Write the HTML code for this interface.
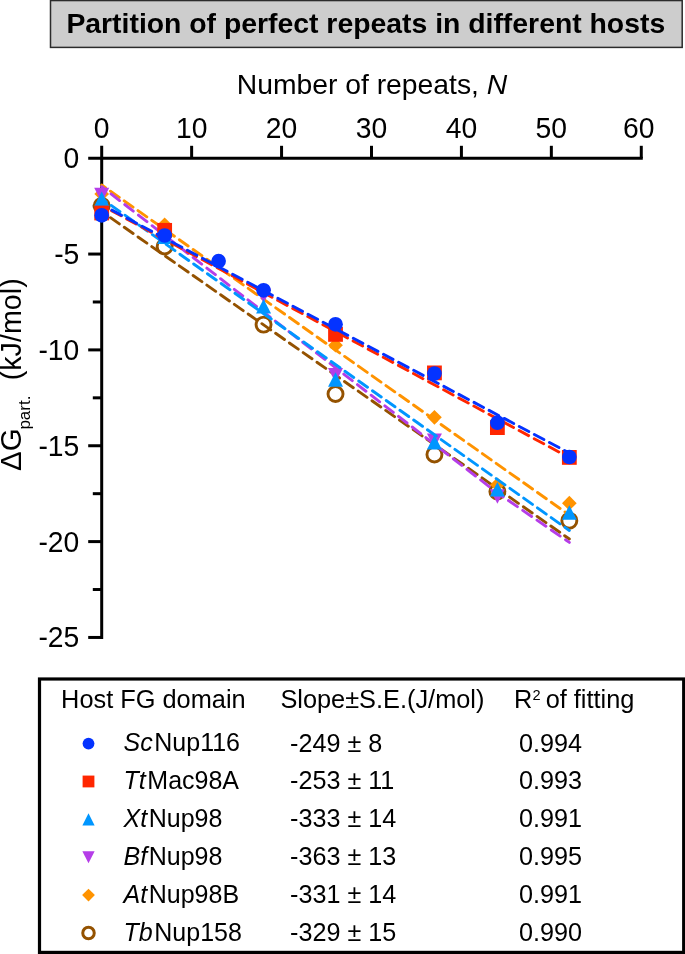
<!DOCTYPE html>
<html lang="en"><head><meta charset="utf-8"><title>Partition of perfect repeats in different hosts</title>
<style>html,body{margin:0;padding:0;background:#fff}body{width:685px;height:954px;overflow:hidden}svg{display:block;will-change:transform}text{font-family:"Liberation Sans", Arial, Helvetica, sans-serif;fill:#000}</style></head><body>
<svg width="685" height="954" viewBox="0 0 685 954">
<rect x="0" y="0" width="685" height="954" fill="#fff"/>
<rect x="50.5" y="0.55" width="631.7" height="46.85" fill="#cdcdcd" stroke="#2b2b2b" stroke-width="1.5"/>
<text x="365.8" y="33.4" font-size="28.37" font-weight="bold" text-anchor="middle">Partition of perfect repeats in different hosts</text>
<text x="372" y="93.5" font-size="28.3" text-anchor="middle">Number of repeats, <tspan font-style="italic">N</tspan></text>
<g stroke="#000" stroke-width="3.00" fill="none" stroke-linecap="butt">
<path d="M88.20 158.20 H642.78"/>
<path d="M101.70 145.80 V638.95"/>
<path d="M191.63 145.80 V158.20"/>
<path d="M281.56 145.80 V158.20"/>
<path d="M371.49 145.80 V158.20"/>
<path d="M461.42 145.80 V158.20"/>
<path d="M551.35 145.80 V158.20"/>
<path d="M641.28 145.80 V158.20"/>
<path d="M92.80 206.12 H101.70"/>
<path d="M88.20 254.05 H101.70"/>
<path d="M92.80 301.98 H101.70"/>
<path d="M88.20 349.90 H101.70"/>
<path d="M92.80 397.83 H101.70"/>
<path d="M88.20 445.75 H101.70"/>
<path d="M92.80 493.68 H101.70"/>
<path d="M88.20 541.60 H101.70"/>
<path d="M92.80 589.53 H101.70"/>
<path d="M88.20 637.45 H101.70"/>
</g>
<text transform="translate(101.70 137.70) scale(1 1.045)" font-size="28.30" text-anchor="middle">0</text>
<text transform="translate(191.63 137.70) scale(1 1.045)" font-size="28.30" text-anchor="middle">10</text>
<text transform="translate(281.56 137.70) scale(1 1.045)" font-size="28.30" text-anchor="middle">20</text>
<text transform="translate(371.49 137.70) scale(1 1.045)" font-size="28.30" text-anchor="middle">30</text>
<text transform="translate(461.42 137.70) scale(1 1.045)" font-size="28.30" text-anchor="middle">40</text>
<text transform="translate(551.35 137.70) scale(1 1.045)" font-size="28.30" text-anchor="middle">50</text>
<text transform="translate(638.78 137.70) scale(1 1.045)" font-size="28.30" text-anchor="middle">60</text>
<text transform="translate(79.30 168.10) scale(1 1.045)" font-size="28.30" text-anchor="end">0</text>
<text transform="translate(79.30 263.95) scale(1 1.045)" font-size="28.30" text-anchor="end">-5</text>
<text transform="translate(79.30 359.80) scale(1 1.045)" font-size="28.30" text-anchor="end">-10</text>
<text transform="translate(79.30 455.65) scale(1 1.045)" font-size="28.30" text-anchor="end">-15</text>
<text transform="translate(79.30 551.50) scale(1 1.045)" font-size="28.30" text-anchor="end">-20</text>
<text transform="translate(79.30 647.35) scale(1 1.045)" font-size="28.30" text-anchor="end">-25</text>
<g transform="translate(21.4 0) rotate(-90)">
<text x="-470.9" y="0" font-size="29.5">ΔG</text>
<text x="-429.6" y="9" font-size="17">part.</text>
<text x="-380.3" y="0" font-size="28.7">(kJ/mol)</text>
</g>
<path d="M101.70 211.50 L569.34 539.00" stroke="#945200" fill="none" stroke-width="2.90" stroke-dasharray="10.8 6.00" stroke-dashoffset="6.05" stroke-linecap="round" stroke-linejoin="round"/>
<circle cx="101.70" cy="205.80" r="7.50" fill="none" stroke="#945200" stroke-width="2.9"/>
<circle cx="164.65" cy="246.50" r="7.50" fill="none" stroke="#945200" stroke-width="2.9"/>
<circle cx="263.57" cy="324.60" r="7.50" fill="none" stroke="#945200" stroke-width="2.9"/>
<circle cx="335.52" cy="394.00" r="7.50" fill="none" stroke="#945200" stroke-width="2.9"/>
<circle cx="434.44" cy="454.50" r="7.50" fill="none" stroke="#945200" stroke-width="2.9"/>
<circle cx="497.39" cy="491.50" r="7.50" fill="none" stroke="#945200" stroke-width="2.9"/>
<circle cx="569.34" cy="520.70" r="7.50" fill="none" stroke="#945200" stroke-width="2.9"/>
<path d="M101.70 185.00 L569.34 515.00" stroke="#ff9300" fill="none" stroke-width="2.90" stroke-dasharray="10.8 6.06" stroke-dashoffset="6.16" stroke-linecap="round" stroke-linejoin="round"/>
<path d="M101.70 186.65 L109.05 194.00 L101.70 201.35 L94.35 194.00Z" fill="#ff9300"/>
<path d="M164.65 217.45 L172.00 224.80 L164.65 232.15 L157.30 224.80Z" fill="#ff9300"/>
<path d="M263.57 282.85 L270.92 290.20 L263.57 297.55 L256.22 290.20Z" fill="#ff9300"/>
<path d="M335.52 337.85 L342.87 345.20 L335.52 352.55 L328.17 345.20Z" fill="#ff9300"/>
<path d="M434.44 409.95 L441.79 417.30 L434.44 424.65 L427.09 417.30Z" fill="#ff9300"/>
<path d="M497.39 477.45 L504.74 484.80 L497.39 492.15 L490.04 484.80Z" fill="#ff9300"/>
<path d="M569.34 495.85 L576.69 503.20 L569.34 510.55 L561.99 503.20Z" fill="#ff9300"/>
<path d="M101.70 186.70 L497.39 492.94 L569.34 542.40" stroke="#b53de8" fill="none" stroke-width="2.90" stroke-dasharray="10.8 6.51" stroke-dashoffset="5.51" stroke-linecap="round" stroke-linejoin="round"/>
<path d="M94.20 187.80 L109.20 187.80 L101.70 202.40Z" fill="#b53de8"/>
<path d="M157.15 223.50 L172.15 223.50 L164.65 238.10Z" fill="#b53de8"/>
<path d="M256.07 288.60 L271.07 288.60 L263.57 303.20Z" fill="#b53de8"/>
<path d="M328.02 368.10 L343.02 368.10 L335.52 382.70Z" fill="#b53de8"/>
<path d="M426.94 433.50 L441.94 433.50 L434.44 448.10Z" fill="#b53de8"/>
<path d="M489.89 489.20 L504.89 489.20 L497.39 503.80Z" fill="#b53de8"/>
<path d="M101.70 198.70 L569.34 530.50" stroke="#0096ff" fill="none" stroke-width="2.90" stroke-dasharray="10.8 6.06" stroke-dashoffset="5.26" stroke-linecap="round" stroke-linejoin="round"/>
<path d="M101.70 191.60 L109.20 206.20 L94.20 206.20Z" fill="#0096ff"/>
<path d="M164.65 229.35 L172.15 243.95 L157.15 243.95Z" fill="#0096ff"/>
<path d="M263.57 298.90 L271.07 313.50 L256.07 313.50Z" fill="#0096ff"/>
<path d="M335.52 372.20 L343.02 386.80 L328.02 386.80Z" fill="#0096ff"/>
<path d="M434.44 435.00 L441.94 449.60 L426.94 449.60Z" fill="#0096ff"/>
<path d="M497.39 481.90 L504.89 496.50 L489.89 496.50Z" fill="#0096ff"/>
<path d="M569.34 505.20 L576.84 519.80 L561.84 519.80Z" fill="#0096ff"/>
<path d="M111.56 210.72 L569.34 457.60" stroke="#ff2600" fill="none" stroke-width="2.90" stroke-dasharray="10.8 6.35" stroke-dashoffset="0" stroke-linecap="round" stroke-linejoin="round"/>
<rect x="94.30" y="205.60" width="14.80" height="14.80" fill="#ff2600"/>
<rect x="157.25" y="222.95" width="14.80" height="14.80" fill="#ff2600"/>
<rect x="328.12" y="327.00" width="14.80" height="14.80" fill="#ff2600"/>
<rect x="427.04" y="365.50" width="14.80" height="14.80" fill="#ff2600"/>
<rect x="489.99" y="420.20" width="14.80" height="14.80" fill="#ff2600"/>
<rect x="561.94" y="450.00" width="14.80" height="14.80" fill="#ff2600"/>
<path d="M111.95 210.14 L569.34 453.00" stroke="#0433ff" fill="none" stroke-width="2.90" stroke-dasharray="10.8 6.28" stroke-dashoffset="0" stroke-linecap="round" stroke-linejoin="round"/>
<circle cx="101.70" cy="215.30" r="7.35" fill="#0433ff"/>
<circle cx="164.65" cy="235.50" r="7.35" fill="#0433ff"/>
<circle cx="218.61" cy="261.10" r="7.35" fill="#0433ff"/>
<circle cx="263.57" cy="290.30" r="7.35" fill="#0433ff"/>
<circle cx="335.52" cy="324.30" r="7.35" fill="#0433ff"/>
<circle cx="434.44" cy="373.50" r="7.35" fill="#0433ff"/>
<circle cx="497.39" cy="422.70" r="7.35" fill="#0433ff"/>
<circle cx="569.34" cy="457.00" r="7.35" fill="#0433ff"/>
<rect x="39.5" y="679" width="644.2" height="273.4" fill="#fff" stroke="#000" stroke-width="3.2"/>
<g font-size="25.35">
<text x="61.1" y="707.8">Host FG domain</text>
<text x="280.4" y="707.8">Slope±S.E.(J/mol)</text>
<text x="514" y="707.8">R<tspan font-size="14.6" dy="-7.4" dx="0.3">2</tspan><tspan dy="7.4" dx="4.9">of fitting</tspan></text>
</g>
<text x="123.6" y="751.40" font-size="25"><tspan font-style="italic">Sc</tspan><tspan dx="1.5">Nup116</tspan></text>
<text transform="translate(290 751.60) scale(1 1.04)" font-size="25.2">-249 ± 8</text>
<text transform="translate(519 751.60) scale(1 1.04)" font-size="25.2">0.994</text>
<text x="123.6" y="789.28" font-size="25"><tspan font-style="italic">Tt</tspan><tspan dx="1.5">Mac98A</tspan></text>
<text transform="translate(290 789.48) scale(1 1.04)" font-size="25.2">-253 ± 11</text>
<text transform="translate(519 789.48) scale(1 1.04)" font-size="25.2">0.993</text>
<text x="123.6" y="827.16" font-size="25"><tspan font-style="italic">Xt</tspan><tspan dx="1.5">Nup98</tspan></text>
<text transform="translate(290 827.36) scale(1 1.04)" font-size="25.2">-333 ± 14</text>
<text transform="translate(519 827.36) scale(1 1.04)" font-size="25.2">0.991</text>
<text x="123.6" y="865.04" font-size="25"><tspan font-style="italic">Bf</tspan><tspan dx="1.5">Nup98</tspan></text>
<text transform="translate(290 865.24) scale(1 1.04)" font-size="25.2">-363 ± 13</text>
<text transform="translate(519 865.24) scale(1 1.04)" font-size="25.2">0.995</text>
<text x="123.6" y="902.92" font-size="25"><tspan font-style="italic">At</tspan><tspan dx="1.5">Nup98B</tspan></text>
<text transform="translate(290 903.12) scale(1 1.04)" font-size="25.2">-331 ± 14</text>
<text transform="translate(519 903.12) scale(1 1.04)" font-size="25.2">0.991</text>
<text x="123.6" y="940.80" font-size="25"><tspan font-style="italic">Tb</tspan><tspan dx="1.5">Nup158</tspan></text>
<text transform="translate(290 941.00) scale(1 1.04)" font-size="25.2">-329 ± 15</text>
<text transform="translate(519 941.00) scale(1 1.04)" font-size="25.2">0.990</text>
<circle cx="88.50" cy="743.60" r="5.9" fill="#0433ff"/>
<rect x="82.60" y="775.58" width="11.8" height="11.8" fill="#ff2600"/>
<path d="M88.50 813.26 L94.65 825.46 L82.35 825.46Z" fill="#0096ff"/>
<path d="M82.35 851.14 L94.65 851.14 L88.50 863.34Z" fill="#b53de8"/>
<path d="M88.50 888.72 L94.90 895.12 L88.50 901.52 L82.10 895.12Z" fill="#ff9300"/>
<circle cx="88.50" cy="933.00" r="5.75" fill="none" stroke="#945200" stroke-width="3.0"/>
</svg></body></html>
